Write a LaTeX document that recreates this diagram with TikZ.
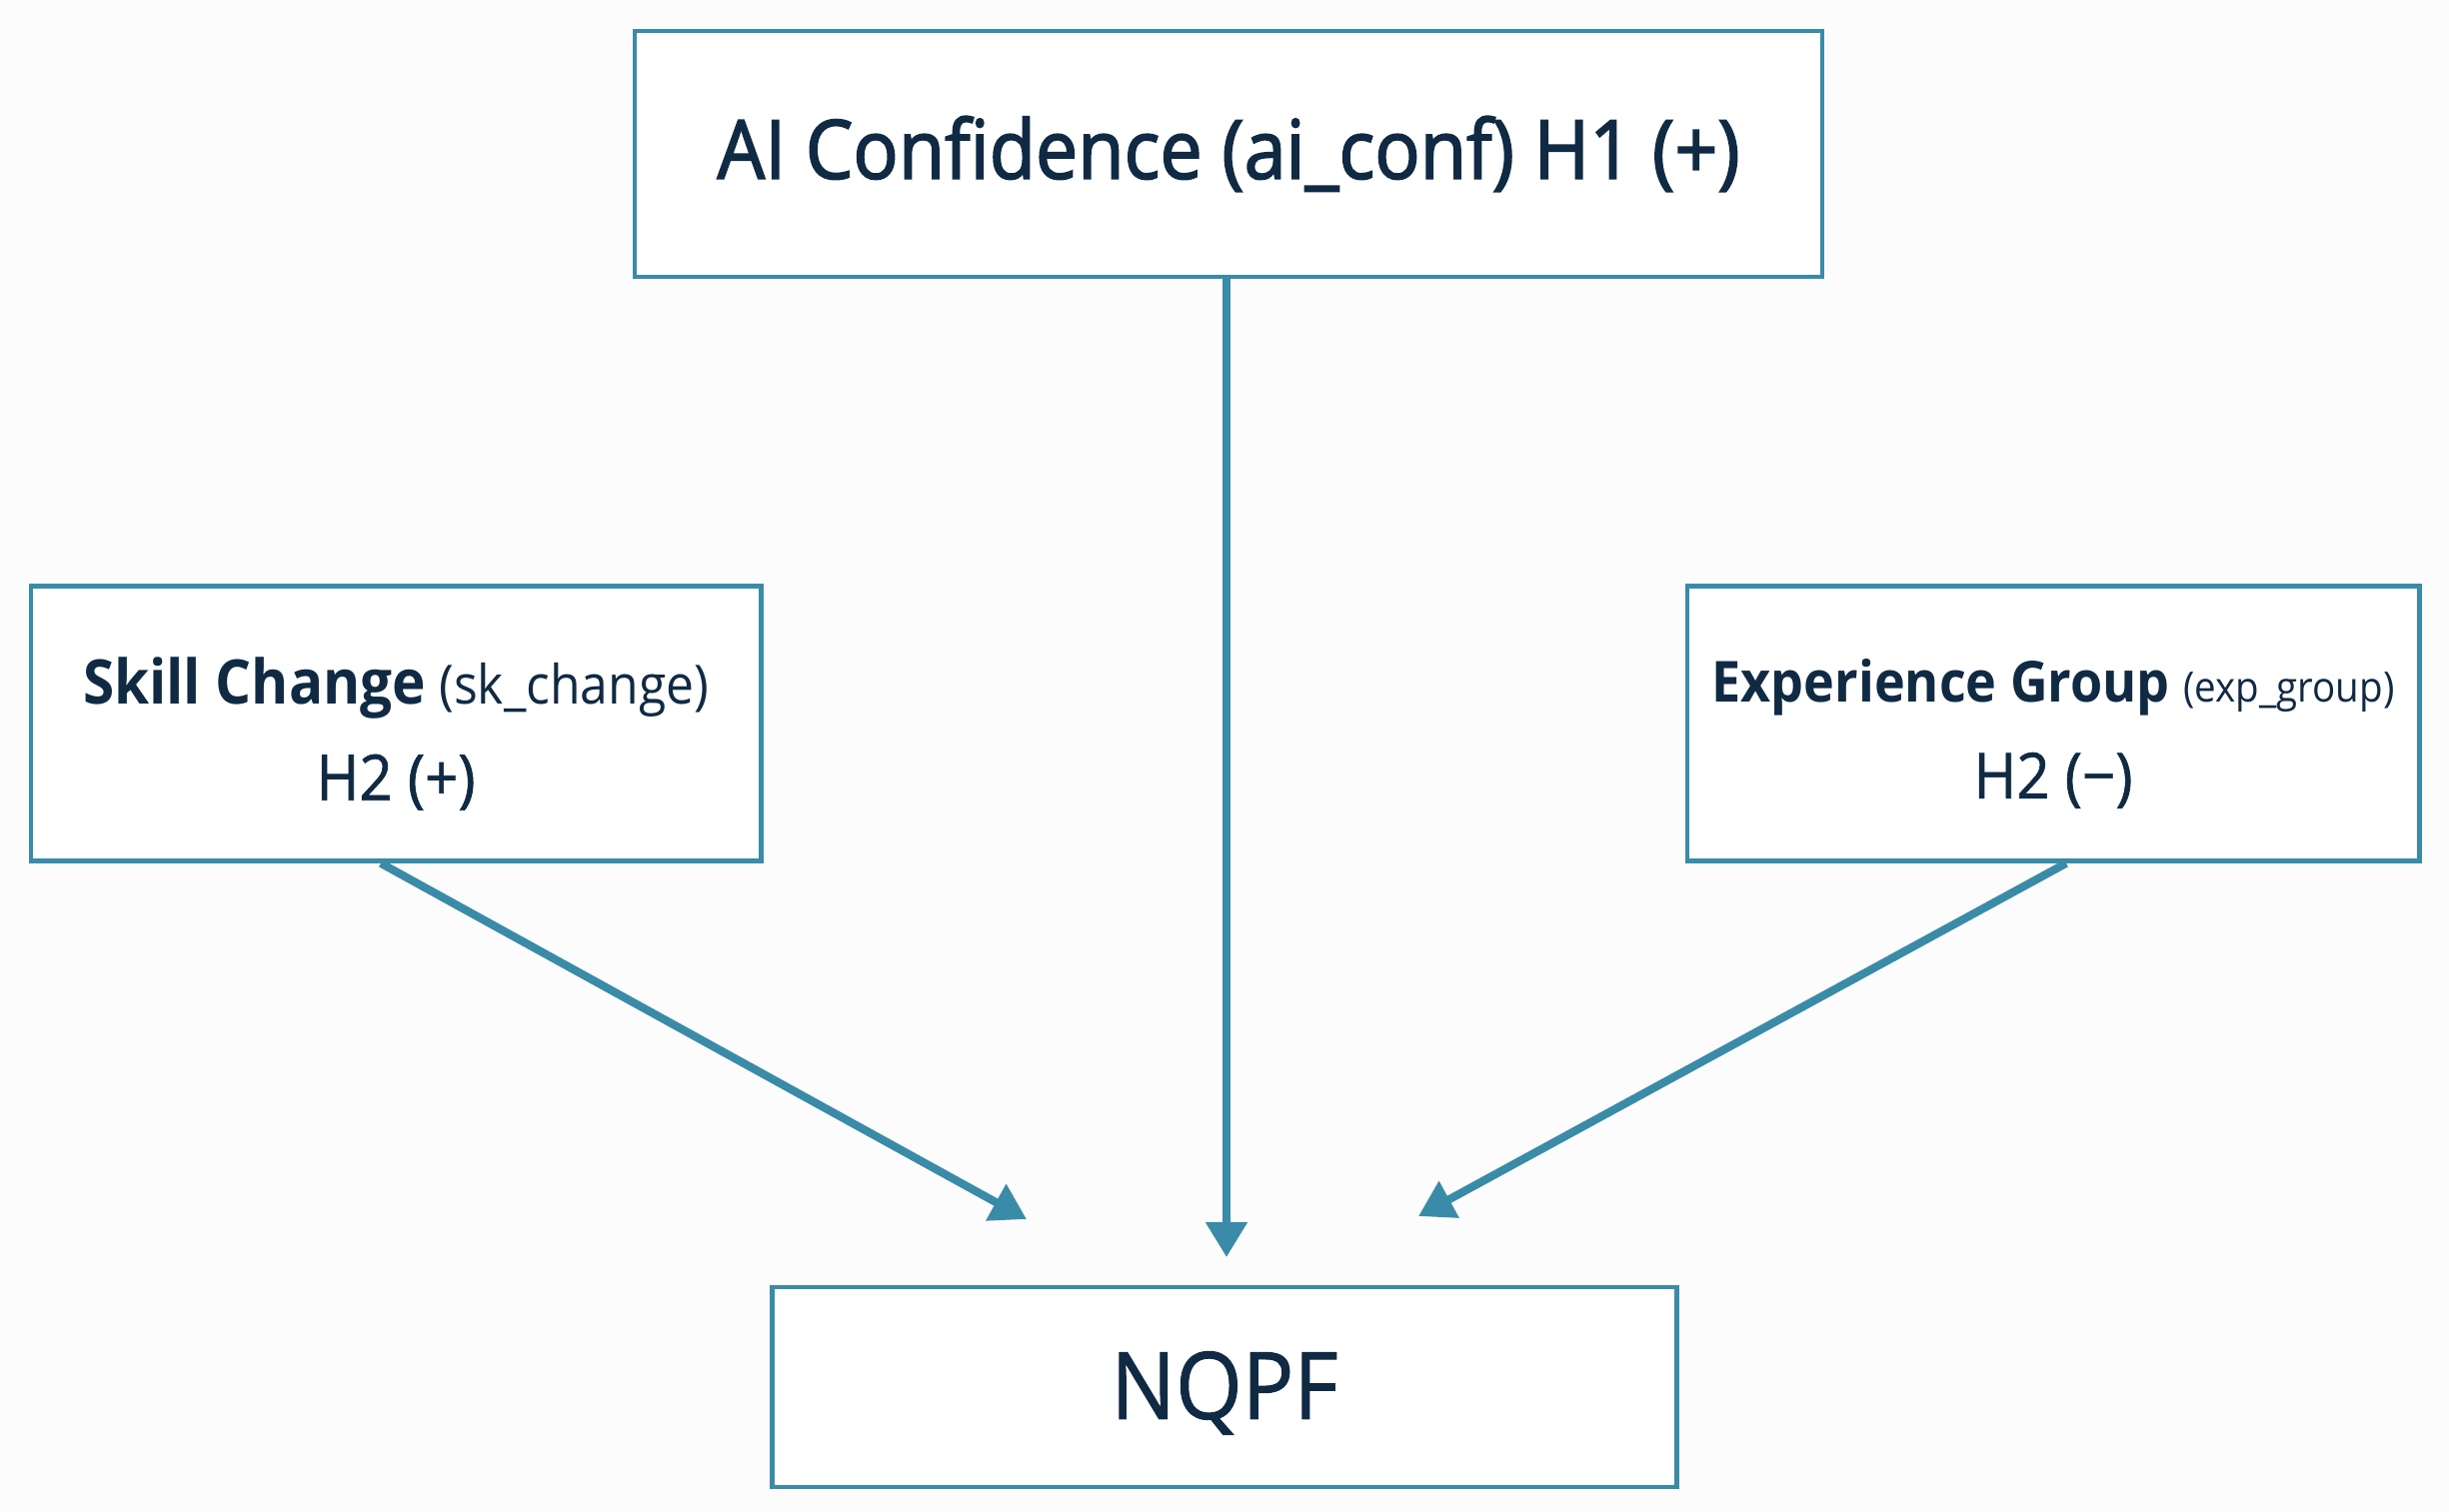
\documentclass[tikz,border=0pt]{standalone}
\usepackage{fontspec}
\setmainfont{Open Sans}[FakeStretch=0.92]
\newfontfamily\medfont{Open Sans}[FakeStretch=0.92,UprightFeatures={FakeBold=2}]
\newfontfamily\lightmed{Open Sans}[FakeStretch=0.92,UprightFeatures={FakeBold=1}]
\usetikzlibrary{arrows.meta,calc}
\definecolor{edgeblue}{RGB}{58,139,168}
\definecolor{ink}{RGB}{16,42,67}
\begin{document}
\begin{tikzpicture}[x=0.01cm,y=-0.01cm,
  box/.style={draw=edgeblue,line width=1.3pt,fill=white,text=ink,align=center,inner sep=0pt},
  label text/.style={text=ink,align=center,inner sep=0pt,font=\fontsize{16}{27.5}\selectfont},
  conn/.style={draw=edgeblue,line width=2.3pt,-{Triangle[width=0.4cm,length=0.35cm]}}]
\fill[white!98!gray] (0,0) rectangle (2450,1513);
\useasboundingbox (0,0) rectangle (2450,1513);
\node[box,minimum width=11.87cm,minimum height=2.46cm] (ai) at (1229,154)
  {\medfont\fontsize{23.3}{28}\selectfont AI Confidence (ai\_conf) H1 (+)\rule[-0.1cm]{0pt}{0pt}};
\node[box,minimum width=7.30cm,minimum height=2.75cm] (sk) at (396,724) {};
\node[label text] (sktext) at ($(sk.center)+(0,10)$)
  {{\fontsize{17.5}{27}\selectfont\bfseries Skill Change} {\fontsize{15.4}{27}\selectfont (sk\_change)}\\
   {\lightmed\fontsize{18}{27}\selectfont H2 (+)}};
\node[box,minimum width=7.32cm,minimum height=2.75cm] (eg) at (2054,724) {};
\node[label text] (egtext) at ($(eg.center)+(0,10)$)
  {{\fontsize{16.1}{27}\selectfont\bfseries Experience Group} {\fontsize{11.9}{27}\selectfont (exp\_group)}\\
   {\lightmed\fontsize{18}{27}\selectfont H2 (\symbol{"2212})}};
\node[box,minimum width=9.05cm,minimum height=2.00cm] (nq) at (1225,1388) {};
\node[label text] (nqtext) at ($(nq.center)+(0,6)$) {\lightmed\fontsize{26.5}{30}\selectfont NQPF};
\coordinate (tipl) at (1027,1220);
\coordinate (tipm) at (1227,1258);
\coordinate (tipr) at (1419,1217);
\draw[conn] ($(sk.south)+(-15,0)$) -- (tipl);
\draw[conn] ($(ai.south)+(-2,0)$) -- (tipm);
\draw[conn] ($(eg.south)+(13,0)$) -- (tipr);
\end{tikzpicture}
\end{document}
